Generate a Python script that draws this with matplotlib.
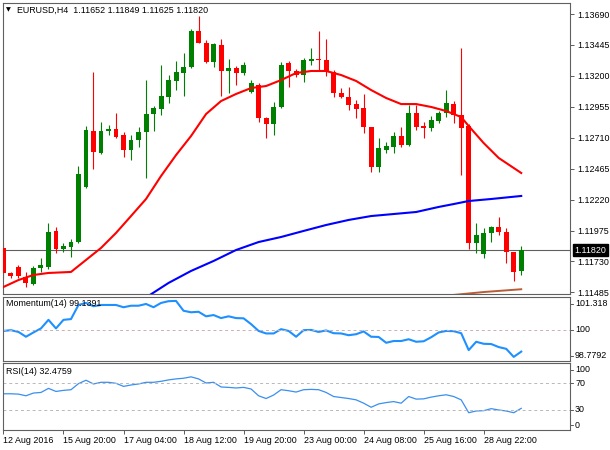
import matplotlib
matplotlib.use('Agg')
import matplotlib.pyplot as plt
import matplotlib.transforms as mtransforms
import numpy as np

plt.rcParams['font.family'] = ['Liberation Sans', 'DejaVu Sans']

# ---------------- data (EURUSD H4) ----------------
opens = [1.11837, 1.11639, 1.11686, 1.11607, 1.11552, 1.11678, 1.11686, 1.11972, 1.11829, 1.11845,
         1.11884, 1.12320, 1.12763, 1.12589, 1.12763, 1.12779, 1.12732, 1.12613, 1.12692, 1.12756,
         1.12898, 1.12938, 1.13033, 1.13160, 1.13223, 1.13270, 1.13556, 1.13460, 1.13310, 1.13445,
         1.13239, 1.13262, 1.13223, 1.13072, 1.13128, 1.12866, 1.12819, 1.12954, 1.13302, 1.13239,
         1.13207, 1.13318, 1.13334, 1.13326, 1.13231, 1.13064, 1.13033, 1.12977, 1.12946, 1.12795,
         1.12478, 1.12613, 1.12637, 1.12724, 1.12653, 1.12906, 1.12803, 1.12787, 1.12843, 1.12906,
         1.12977, 1.12890, 1.12803, 1.11876, 1.11789, 1.11956, 1.12003, 1.11964, 1.11805, 1.11652]
highs = [1.11869, 1.11647, 1.11702, 1.11647, 1.11694, 1.11758, 1.12035, 1.12003, 1.11876, 1.11908,
         1.12486, 1.12803, 1.13231, 1.12835, 1.12811, 1.12906, 1.12756, 1.12732, 1.12795, 1.13167,
         1.12962, 1.13286, 1.13207, 1.13318, 1.13381, 1.13571, 1.13674, 1.13484, 1.13460, 1.13492,
         1.13334, 1.13278, 1.13310, 1.13167, 1.13144, 1.12874, 1.12993, 1.13310, 1.13318, 1.13255,
         1.13342, 1.13421, 1.13556, 1.13492, 1.13247, 1.13104, 1.13112, 1.13009, 1.13057, 1.12795,
         1.12708, 1.12676, 1.12756, 1.12795, 1.12969, 1.12969, 1.12835, 1.12882, 1.12922, 1.13088,
         1.13001, 1.13421, 1.12819, 1.12035, 1.11995, 1.12011, 1.12082, 1.11995, 1.11805, 1.11849]
lows = [1.11599, 1.11599, 1.11599, 1.11528, 1.11545, 1.11647, 1.11671, 1.11797, 1.11805, 1.11766,
        1.11876, 1.12312, 1.12463, 1.12581, 1.12732, 1.12708, 1.12558, 1.12534, 1.12637, 1.12391,
        1.12763, 1.12890, 1.12985, 1.13088, 1.13041, 1.13262, 1.13460, 1.13302, 1.13270, 1.13041,
        1.13064, 1.13128, 1.13207, 1.13064, 1.12835, 1.12708, 1.12732, 1.12946, 1.13112, 1.13191,
        1.13152, 1.13286, 1.13247, 1.13199, 1.13033, 1.13025, 1.12930, 1.12866, 1.12748, 1.12439,
        1.12439, 1.12589, 1.12589, 1.12637, 1.12645, 1.12771, 1.12708, 1.12763, 1.12827, 1.12874,
        1.12827, 1.12415, 1.11829, 1.11797, 1.11758, 1.11884, 1.11940, 1.11718, 1.11576, 1.11625]
closes = [1.11639, 1.11615, 1.11615, 1.11560, 1.11678, 1.11702, 1.11964, 1.11829, 1.11853, 1.11884,
          1.12423, 1.12771, 1.12597, 1.12763, 1.12779, 1.12716, 1.12613, 1.12692, 1.12756, 1.12898,
          1.12946, 1.13041, 1.13167, 1.13231, 1.13270, 1.13556, 1.13460, 1.13310, 1.13453, 1.13239,
          1.13262, 1.13223, 1.13286, 1.13144, 1.12866, 1.12819, 1.12954, 1.13286, 1.13239, 1.13207,
          1.13326, 1.13334, 1.13326, 1.13231, 1.13064, 1.13033, 1.12969, 1.12938, 1.12795, 1.12478,
          1.12629, 1.12645, 1.12724, 1.12653, 1.12906, 1.12795, 1.12787, 1.12851, 1.12906, 1.12985,
          1.12890, 1.12787, 1.11876, 1.11940, 1.11956, 1.12003, 1.11964, 1.11805, 1.11647, 1.11820]

ma20_bars = [0, 2, 4, 6, 9, 13, 15, 17, 19, 21, 23, 25, 27, 29, 31, 33, 35, 37, 39, 41, 43, 45,
             47, 49, 51, 53, 55, 57, 59, 61, 62, 64, 66, 69]
ma20_vals = [1.11528, 1.11583, 1.11623, 1.11639, 1.11647, 1.11837, 1.11956, 1.12090, 1.12225,
             1.12407, 1.12573, 1.12724, 1.12898, 1.13001, 1.13057, 1.13104, 1.13120, 1.13167,
             1.13223, 1.13239, 1.13239, 1.13207, 1.13160, 1.13088, 1.13025, 1.12977, 1.12977,
             1.12954, 1.12922, 1.12874, 1.12803, 1.12668, 1.12550, 1.12431]
ma100_bars = [19, 22, 25, 28, 31, 34, 37, 40, 43, 46, 49, 52, 55, 58, 60, 62, 65, 69]
ma100_vals = [1.11445, 1.11560, 1.11655, 1.11734, 1.11821, 1.11884, 1.11924, 1.11972, 1.12019,
              1.12059, 1.12090, 1.12106, 1.12122, 1.12162, 1.12185, 1.12209, 1.12225, 1.12249]
ma200_bars = [58, 60, 64, 69]
ma200_vals = [1.11455, 1.11465, 1.11488, 1.11510]

momentum = [99.96, 99.99, 99.92, 99.73, 99.90, 100.06, 100.40, 100.06, 100.40, 100.43,
            100.99, 101.07, 100.94, 100.99, 100.99, 100.99, 100.90, 100.96, 100.96, 101.03,
            100.90, 101.07, 101.14, 101.15, 100.76, 100.70, 100.72, 100.54, 100.59, 100.47,
            100.54, 100.47, 100.46, 100.23, 99.96, 99.86, 99.86, 100.03, 99.96, 99.73,
            99.99, 100.00, 99.92, 99.98, 99.87, 99.86, 99.79, 99.83, 99.94, 99.73,
            99.72, 99.49, 99.56, 99.56, 99.63, 99.53, 99.55, 99.71, 99.90, 99.96,
            99.95, 99.87, 99.20, 99.53, 99.45, 99.44, 99.32, 99.25, 98.93, 99.1391]
rsi = [54.3, 54.3, 53.8, 51.3, 55.4, 56.3, 62.4, 57.8, 59.4, 60.4,
       69.5, 74.6, 69.0, 71.5, 71.5, 70.0, 65.4, 67.5, 69.0, 71.5,
       71.5, 73.0, 75.1, 76.6, 77.6, 79.7, 76.6, 70.5, 71.5, 64.5,
       63.9, 63.0, 63.9, 61.5, 51.3, 47.2, 52.4, 60.4, 58.9, 56.9,
       60.4, 60.9, 60.4, 56.3, 50.2, 48.7, 47.2, 45.2, 40.2, 34.1,
       39.1, 41.1, 42.6, 40.2, 50.2, 46.3, 46.7, 49.3, 51.3, 52.8,
       50.2, 45.2, 25.9, 28.5, 29.0, 32.0, 30.0, 28.5, 25.9, 32.4759]

price_ticks = [1.13690, 1.13445, 1.13200, 1.12955, 1.12710, 1.12465, 1.12220, 1.11975, 1.11730, 1.11485]
last_price = 1.11820
mom_min, mom_max, mom_level = 98.7792, 101.318, 100
rsi_ticks = [100, 70, 30, 0]
rsi_levels = [70, 30]
x_tick_bars = [0, 8, 16, 24, 32, 40, 48, 56, 64]
x_tick_labels = ['12 Aug 2016', '15 Aug 20:00', '17 Aug 04:00', '18 Aug 12:00', '19 Aug 20:00',
                 '23 Aug 00:00', '24 Aug 08:00', '25 Aug 16:00', '28 Aug 22:00']
title = 'EURUSD,H4  1.11652 1.11849 1.11625 1.11820'
mom_title = 'Momentum(14) 99.1391'
rsi_title = 'RSI(14) 32.4759'

# ---------------- layout ----------------
W, H = 610, 450
FS = 6.4
fig = plt.figure(figsize=(W / 100, H / 100), dpi=100)
fig.patch.set_facecolor('white')


def rect(l, t, r, b):
    return [l / W, 1 - b / H, (r - l) / W, (b - t) / H]


ax_main = fig.add_axes(rect(2.7, 2.7, 570, 294.3))
ax_mom = fig.add_axes(rect(2.7, 296.7, 570, 360.7))
ax_rsi = fig.add_axes(rect(2.7, 363.3, 570, 430))

XL = (-0.1, 75.5)
for ax in (ax_main, ax_mom, ax_rsi):
    ax.set_xlim(*XL)
    ax.set_facecolor('white')
    for s in ax.spines.values():
        s.set_color('#606060')
        s.set_linewidth(0.8)

# ---------------- candles ----------------
o = np.array(opens); h = np.array(highs); l = np.array(lows); c = np.array(closes)
x = np.arange(len(o))
up = c >= o
cols = np.where(up, '#008000', '#ff0000')
ax_main.vlines(x, l, h, colors=cols, linewidth=0.8, zorder=2)
ax_main.bar(x, np.maximum(np.abs(c - o), 0.00007), bottom=np.minimum(o, c), width=0.66,
            color=cols, linewidth=0, zorder=3)

ax_main.axhline(last_price, color='#606060', lw=0.8, zorder=1)
ax_main.plot(ma200_bars, ma200_vals, color='#b85c38', lw=1.4, zorder=4)
ax_main.plot(ma100_bars, ma100_vals, color='#0000ff', lw=1.5, zorder=4)
ax_main.plot(ma20_bars, ma20_vals, color='#ff0000', lw=1.5, zorder=4)

ax_main.set_ylim(1.11470, 1.13780)
ax_main.set_xticks([])
ax_main.yaxis.tick_right()
ax_main.set_yticks(price_ticks)
ax_main.set_yticklabels(['%.5f' % v for v in price_ticks])
ax_main.tick_params(axis='y', direction='out', length=3, width=0.6, pad=2,
                    labelsize=FS, colors='#404040', labelcolor='black')
ax_main.annotate('%.5f' % last_price, xy=(1, last_price), xycoords=('axes fraction', 'data'),
                 xytext=(3.2, 0), textcoords='offset points', ha='left', va='center',
                 fontsize=FS, color='white', annotation_clip=False,
                 bbox=dict(boxstyle='square,pad=0.18', fc='black', ec='black'))

# ---------------- helper for indicator axis labels ----------------
def side_label(ax, val, txt, dy_px):
    tr = mtransforms.blended_transform_factory(ax.transAxes, ax.transData) + \
        mtransforms.ScaledTranslation(0, dy_px / 100, fig.dpi_scale_trans)
    ax.text(1.0, val, txt, transform=tr, ha='left', va='center', fontsize=FS,
            color='black', clip_on=False)
    tr2 = mtransforms.blended_transform_factory(ax.transAxes, ax.transData) + \
        mtransforms.ScaledTranslation(0, dy_px / 100, fig.dpi_scale_trans)
    ax.plot([1.0, 1.0 + 3 / 567.3], [val, val], transform=tr2, color='#404040',
            lw=0.6, clip_on=False)


def place(ax, val, txt, dy_px):
    tr = mtransforms.blended_transform_factory(ax.transAxes, ax.transData) + \
        mtransforms.ScaledTranslation(5 / 100, dy_px / 100, fig.dpi_scale_trans)
    ax.text(1.0, val, txt, transform=tr, ha='left', va='center', fontsize=FS,
            color='black', clip_on=False)
    tr2 = mtransforms.blended_transform_factory(ax.transAxes, ax.transData) + \
        mtransforms.ScaledTranslation(0, dy_px / 100, fig.dpi_scale_trans)
    ax.plot([1.0, 1.0 + 3 / 567.3], [val, val], transform=tr2, color='#404040',
            lw=0.6, clip_on=False)


# ---------------- momentum ----------------
ax_mom.plot(x, momentum, color='#1e90ff', lw=1.5)
ax_mom.axhline(mom_level, color='#c8b0b0', lw=0.7, ls=(0, (3, 3)))
ax_mom.set_ylim(mom_min, mom_max)
ax_mom.set_xticks([]); ax_mom.set_yticks([])
place(ax_mom, mom_max, '%.3f' % mom_max, -7)
place(ax_mom, mom_level, '%d' % mom_level, 0)
place(ax_mom, mom_min, '%.4f' % mom_min, 5)

# ---------------- RSI ----------------
ax_rsi.plot(x, rsi, color='#3a8ff0', lw=0.9)
for lv in rsi_levels:
    ax_rsi.axhline(lv, color='#b8b8b8', lw=0.7, ls=(0, (3, 3)))
ax_rsi.set_ylim(0, 100)
ax_rsi.set_yticks([])
place(ax_rsi, 100, '100', -6.5)
place(ax_rsi, 70, '70', 0)
place(ax_rsi, 30, '30', 0)
place(ax_rsi, 0, '0', 5)
ax_rsi.set_xticks(x_tick_bars)
ax_rsi.set_xticklabels(x_tick_labels)
ax_rsi.tick_params(axis='x', direction='out', length=3, width=0.6, pad=1.5,
                   labelsize=FS, colors='#404040', labelcolor='black')
for lbl in ax_rsi.get_xticklabels():
    lbl.set_ha('left')

# ---------------- titles ----------------
fig.text(6 / W, 1 - 10 / H, '\u25bc', fontsize=4.5, family='DejaVu Sans', va='center', ha='left')
fig.text(17 / W, 1 - 10 / H, title, fontsize=FS, va='center', ha='left')
fig.text(6 / W, 1 - 304 / H, mom_title, fontsize=FS, va='center', ha='left')
fig.text(6 / W, 1 - 371 / H, rsi_title, fontsize=FS, va='center', ha='left')

fig.savefig('out.png', dpi=100, facecolor='white')
